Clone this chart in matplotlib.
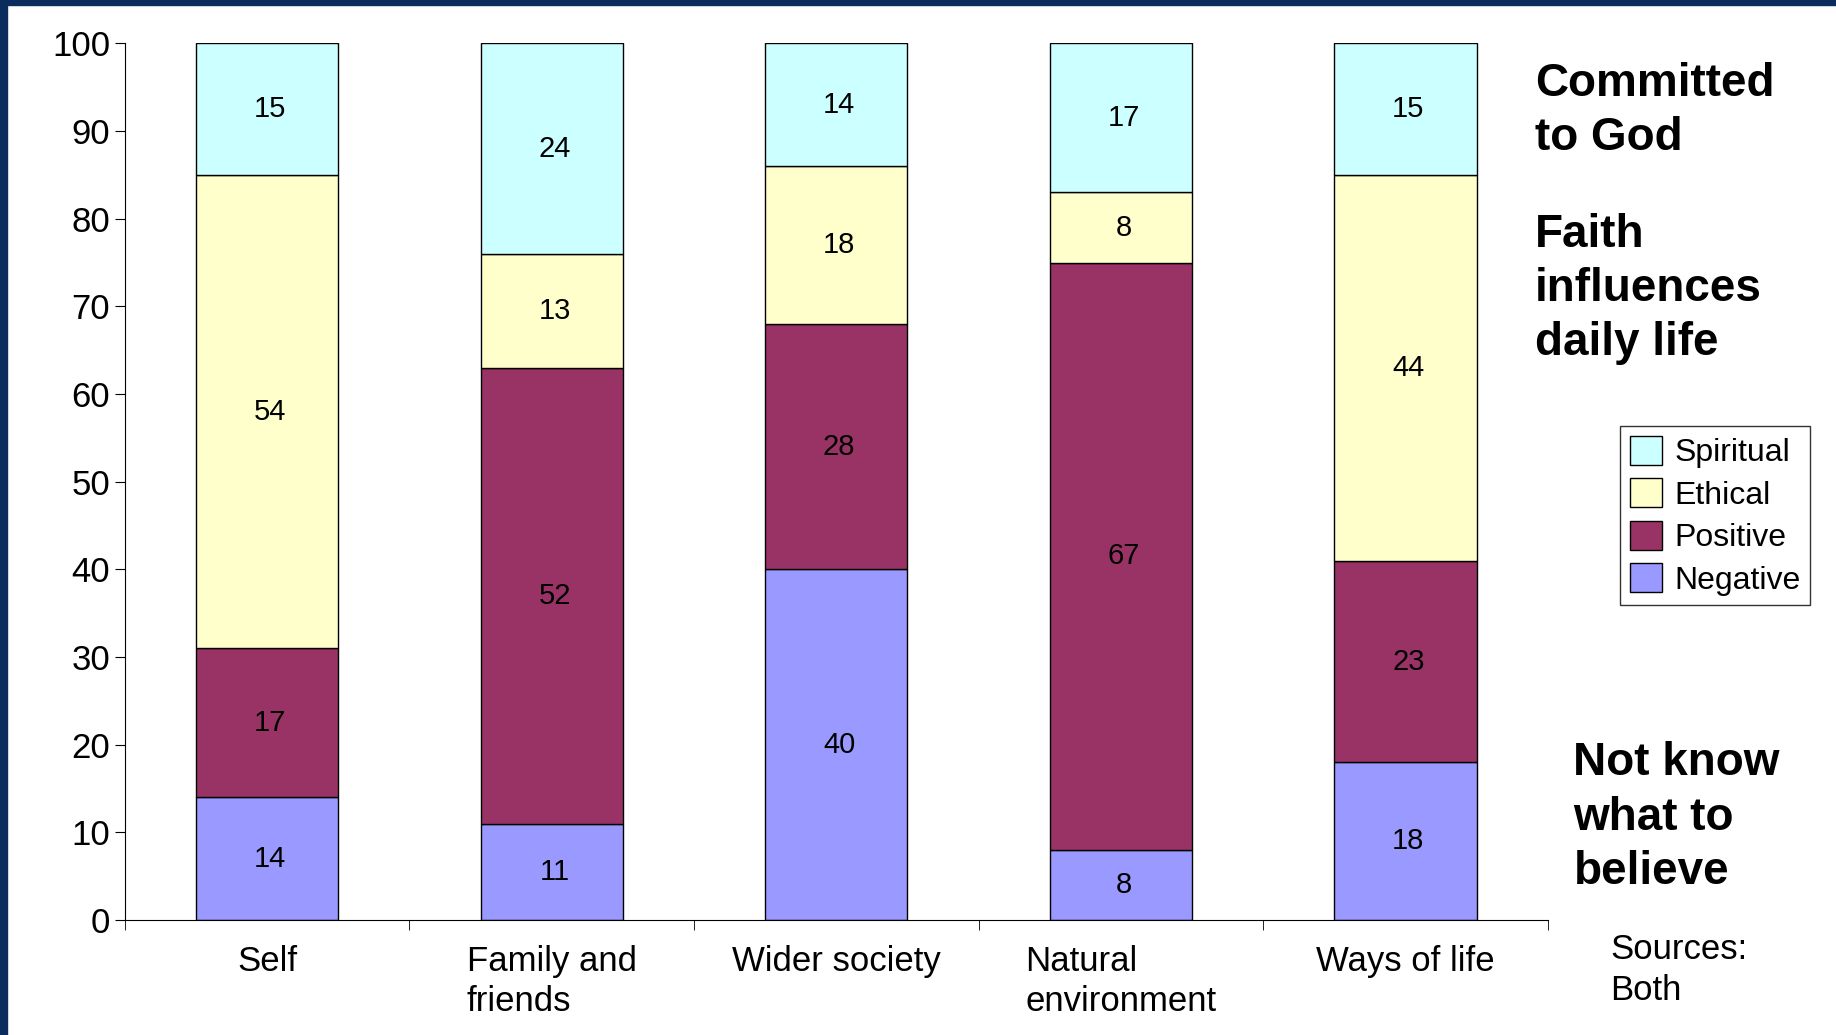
import matplotlib
matplotlib.use("Agg")
import matplotlib.pyplot as plt
from matplotlib.patches import Rectangle
import numpy as np

plt.rcParams['font.family'] = ['Liberation Sans', 'DejaVu Sans']

categories = ["Self", "Family and\nfriends", "Wider society", "Natural\nenvironment", "Ways of life"]
negative = [14, 11, 40, 8, 18]
positive = [17, 52, 28, 67, 23]
ethical = [54, 13, 18, 8, 44]
spiritual = [15, 24, 14, 17, 15]
series = [("Negative", negative, "#9999ff"), ("Positive", positive, "#993366"),
          ("Ethical", ethical, "#ffffcc"), ("Spiritual", spiritual, "#ccffff")]

fig = plt.figure(figsize=(18.36, 10.35), dpi=100)
ax = fig.add_axes([0.068, 0.111, 0.775, 0.847])
x = np.arange(len(categories))
bottom = np.zeros(len(categories))
handles = {}
for name, vals, col in series:
    b = ax.bar(x, vals, 0.5, bottom=bottom, color=col, edgecolor="black", linewidth=1)
    handles[name] = b
    for xi, v, bt in zip(x, vals, bottom):
        ax.text(xi + 0.01, bt + v / 2, str(v), ha="center", va="center", fontsize=21)
    bottom += np.array(vals)

ax.set_xlim(-0.5, 4.5)
ax.set_ylim(0, 100)
ax.set_yticks(range(0, 101, 10))
ax.set_xticks(x)
ax.set_xticklabels(categories, fontsize=25, linespacing=1.25)
ax.set_xticks(np.arange(-0.5, 5, 1), minor=True)
ax.tick_params(axis="x", which="major", length=0, pad=18)
ax.tick_params(axis="x", which="minor", length=7)
ax.tick_params(axis="y", labelsize=25, length=7)
for s in ["top", "right"]:
    ax.spines[s].set_visible(False)
for lab in ax.get_xticklabels():
    lab.set_horizontalalignment("center")
    lab.set_multialignment("left")

order = ["Spiritual", "Ethical", "Positive", "Negative"]
leg = fig.legend([handles[n] for n in order], order, loc="upper left",
                 bbox_to_anchor=(0.8825, 0.588), fontsize=23, frameon=True, fancybox=False,
                 edgecolor="black", handlelength=1.0, handleheight=1.0, borderpad=0.3,
                 labelspacing=0.32, handletextpad=0.4, borderaxespad=0)
leg.get_frame().set_linewidth(1)

kw = dict(fontsize=33, fontweight="bold", va="center", linespacing=1.3)
fig.text(0.836, 0.893, "Committed\nto God", **kw)
fig.text(0.836, 0.721, "Faith\ninfluences\ndaily life", **kw)
fig.text(0.857, 0.21, "Not know\nwhat to\nbelieve", **kw)
fig.text(0.877, 0.063, "Sources:\nBoth", fontsize=25, va="center", linespacing=1.3)

fig.patches.append(Rectangle((0, 0.995), 1, 0.005, transform=fig.transFigure, color="#0a2d5e", zorder=10))
fig.patches.append(Rectangle((0, 0), 0.004, 1, transform=fig.transFigure, color="#0a2d5e", zorder=10))
fig.savefig("out.png", dpi=100)
